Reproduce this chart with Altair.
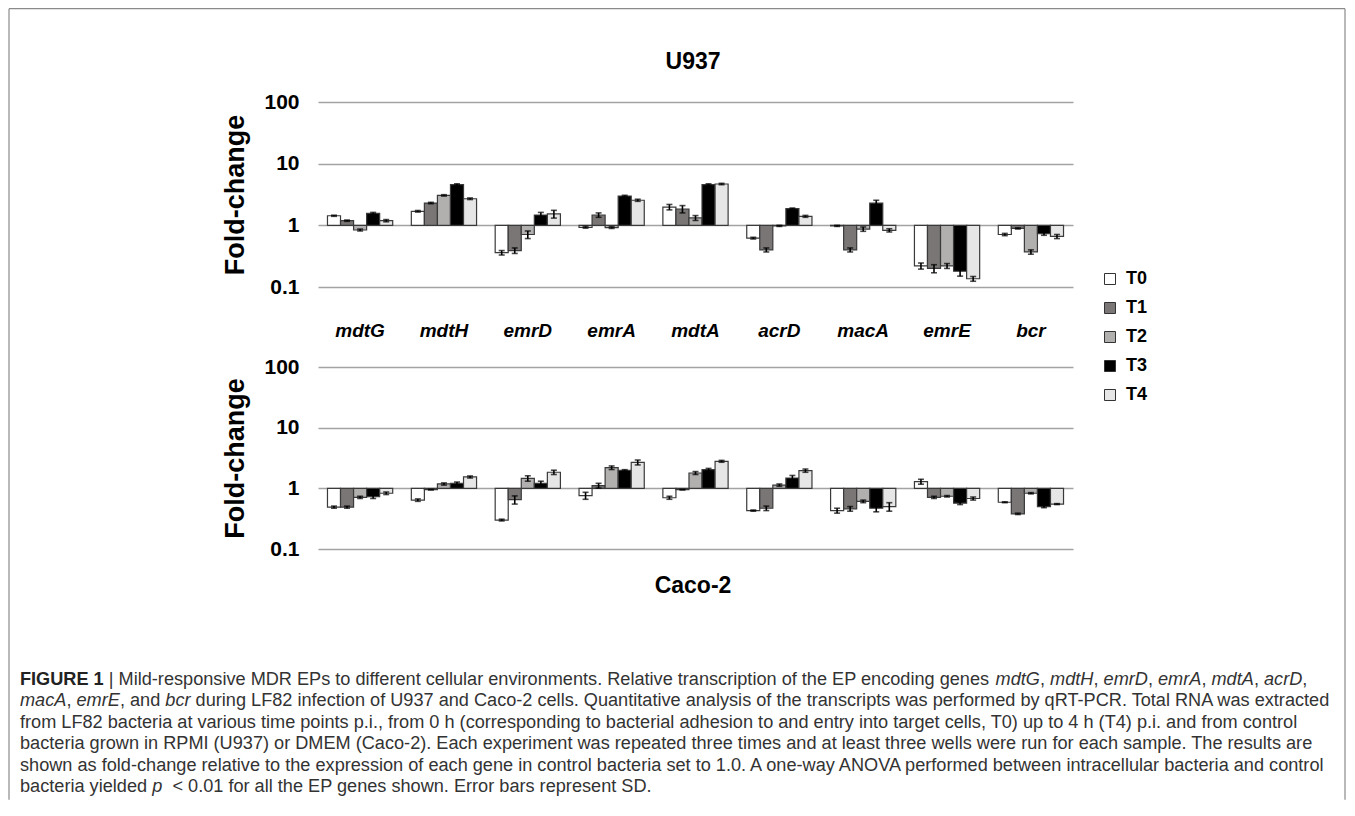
import altair as alt
import pandas as pd

# ---------------- data ----------------
GENES = ["mdtG", "mdtH", "emrD", "emrA", "mdtA", "acrD", "macA", "emrE", "bcr"]
TIMES = ["T0", "T1", "T2", "T3", "T4"]
COLORS = ["#ffffff", "#7a7676", "#b2afaf", "#000000", "#e6e6e6"]

# U937 fold-change (one list per time point, genes in GENES order)
U937_T0 = [1.43, 1.69, 0.36, 0.93, 1.98, 0.62, 0.98, 0.22, 0.71]
U937_T1 = [1.19, 2.30, 0.39, 1.47, 1.84, 0.40, 0.40, 0.20, 0.89]
U937_T2 = [0.84, 3.06, 0.71, 0.92, 1.32, 0.98, 0.87, 0.22, 0.37]
U937_T3 = [1.57, 4.57, 1.47, 2.99, 4.57, 1.86, 2.30, 0.18, 0.73]
U937_T4 = [1.19, 2.70, 1.53, 2.55, 4.68, 1.40, 0.83, 0.136, 0.66]
U937_SD_T0 = [0.03, 0.05, 0.03, 0.03, 0.20, 0.02, 0.02, 0.025, 0.03]
U937_SD_T1 = [0.03, 0.06, 0.04, 0.12, 0.25, 0.03, 0.03, 0.03, 0.02]
U937_SD_T2 = [0.03, 0.08, 0.10, 0.03, 0.12, 0.02, 0.07, 0.02, 0.03]
U937_SD_T3 = [0.05, 0.15, 0.15, 0.08, 0.15, 0.05, 0.25, 0.03, 0.04]
U937_SD_T4 = [0.05, 0.08, 0.22, 0.10, 0.12, 0.05, 0.05, 0.012, 0.05]

# Caco-2 fold-change
CACO_T0 = [0.49, 0.64, 0.30, 0.76, 0.70, 0.43, 0.43, 1.29, 0.59]
CACO_T1 = [0.49, 0.95, 0.65, 1.11, 0.95, 0.47, 0.46, 0.71, 0.38]
CACO_T2 = [0.71, 1.18, 1.46, 2.19, 1.79, 1.13, 0.61, 0.74, 0.83]
CACO_T3 = [0.73, 1.21, 1.21, 1.98, 2.03, 1.48, 0.47, 0.57, 0.50]
CACO_T4 = [0.83, 1.54, 1.84, 2.68, 2.79, 1.96, 0.50, 0.68, 0.55]
CACO_SD_T0 = [0.02, 0.03, 0.01, 0.10, 0.04, 0.01, 0.04, 0.12, 0.01]
CACO_SD_T1 = [0.02, 0.01, 0.10, 0.10, 0.01, 0.04, 0.04, 0.03, 0.01]
CACO_SD_T2 = [0.03, 0.05, 0.15, 0.15, 0.10, 0.05, 0.03, 0.02, 0.02]
CACO_SD_T3 = [0.05, 0.06, 0.10, 0.05, 0.10, 0.15, 0.06, 0.03, 0.02]
CACO_SD_T4 = [0.04, 0.06, 0.15, 0.25, 0.10, 0.12, 0.08, 0.04, 0.01]

Y_TICKS = [0.1, 1, 10, 100]

CAPTION_LINES = [
    [("FIGURE 1", "b"), (" |", "n"),
     (" Mild-responsive MDR EPs to different cellular environments. Relative transcription of the EP encoding genes ", "n"),
     ("mdtG", "i"), (", ", "n"), ("mdtH", "i"), (", ", "n"), ("emrD", "i"), (", ", "n"),
     ("emrA", "i"), (", ", "n"), ("mdtA", "i"), (", ", "n"), ("acrD", "i"), (",", "n")],
    [("macA", "i"), (", ", "n"), ("emrE", "i"), (", and ", "n"), ("bcr", "i"),
     (" during LF82 infection of U937 and Caco-2 cells. Quantitative analysis of the transcripts was performed by qRT-PCR. Total RNA was extracted", "n")],
    [("from LF82 bacteria at various time points p.i., from 0 h (corresponding to bacterial adhesion to and entry into target cells, T0) up to 4 h (T4) p.i. and from control", "n")],
    [("bacteria grown in RPMI (U937) or DMEM (Caco-2). Each experiment was repeated three times and at least three wells were run for each sample. The results are", "n")],
    [("shown as fold-change relative to the expression of each gene in control bacteria set to 1.0. A one-way ANOVA performed between intracellular bacteria and control", "n")],
    [("bacteria yielded ", "n"), ("p", "i"), ("  < 0.01 for all the EP genes shown. Error bars represent SD.", "n")],
]

# ---------------- layout (page pixels) ----------------
PLOT_LEFT = 318
TOP1 = 102.3
H1 = 185
GAP = 80
H2 = 182
W = 755
TOP2 = TOP1 + H1 + GAP
BOTTOM2 = TOP2 + H2
CAP_ORIGIN = BOTTOM2 + GAP
CAP_X0, CAP_Y0, CAP_DY, CAP_RIGHT = 20, 680, 21.5, 1335

FONT = "Liberation Sans"

# ---------------- helpers ----------------
def panel_df(series, sds):
    rows = []
    for t, vals, sd in zip(TIMES, series, sds):
        for g, v, s in zip(GENES, vals, sd):
            rows.append({"gene": g, "time": t, "value": v, "lo": v - s, "hi": v + s})
    return pd.DataFrame(rows)


df_u = panel_df([U937_T0, U937_T1, U937_T2, U937_T3, U937_T4],
                [U937_SD_T0, U937_SD_T1, U937_SD_T2, U937_SD_T3, U937_SD_T4])
df_c = panel_df([CACO_T0, CACO_T1, CACO_T2, CACO_T3, CACO_T4],
                [CACO_SD_T0, CACO_SD_T1, CACO_SD_T2, CACO_SD_T3, CACO_SD_T4])

yscale = alt.Scale(type="log", domain=[0.1, 100], nice=False)


def panel(df, height, show_genes, legend):
    xaxis = (alt.Axis(title=None, domain=False, ticks=False, tickSize=0, labelAngle=0,
                      labelFontSize=19, labelFontWeight="bold", labelFontStyle="italic",
                      labelColor="black", labelPadding=43.7, labelBaseline="middle")
             if show_genes else None)
    x = alt.X("gene:N", sort=GENES, axis=xaxis,
              scale=alt.Scale(paddingInner=0.222, paddingOuter=0.113))
    xo = alt.XOffset("time:N", sort=TIMES, scale=alt.Scale(paddingInner=0, paddingOuter=0))
    yaxis = alt.Axis(values=Y_TICKS, format="~g", title="Fold-change", grid=True,
                     gridColor="#a3a3a3", gridWidth=1.5, domain=False, ticks=False, tickSize=0,
                     labelFontSize=21, labelFontWeight="bold", labelColor="black",
                     labelPadding=19, titleFontSize=27, titleFontWeight="bold",
                     titleColor="black", titlePadding=14)
    base = alt.Chart(df)
    bars = base.mark_bar(stroke="#3a3a3a", strokeWidth=1.2).encode(
        x=x, xOffset=xo,
        y=alt.Y("value:Q", scale=yscale, axis=yaxis, title="Fold-change"),
        y2=alt.datum(1),
        fill=alt.Fill("time:N", sort=TIMES,
                      scale=alt.Scale(domain=TIMES, range=COLORS), legend=legend),
    )
    err = base.mark_rule(color="black", strokeWidth=1.6).encode(
        x=x, xOffset=xo,
        y=alt.Y("lo:Q", scale=yscale, title="Fold-change"), y2="hi:Q")
    cap_lo = base.mark_tick(color="black", thickness=1.6, size=6, orient="horizontal").encode(
        x=x, xOffset=xo, y=alt.Y("lo:Q", scale=yscale, title="Fold-change"))
    cap_hi = base.mark_tick(color="black", thickness=1.6, size=6, orient="horizontal").encode(
        x=x, xOffset=xo, y=alt.Y("hi:Q", scale=yscale, title="Fold-change"))
    return [bars, err, cap_lo, cap_hi]


legend = alt.Legend(title=None, orient="none", legendX=783, legendY=168, padding=0,
                    symbolType="square", symbolSize=121, symbolStrokeColor="#333333",
                    symbolStrokeWidth=1, labelFontSize=18, labelFontWeight="bold",
                    labelColor="black", labelOffset=7, rowPadding=11)

title_u = alt.Chart(pd.DataFrame({"t": ["U937"]})).mark_text(
    fontSize=23, fontWeight="bold", color="black", align="center", baseline="middle"
).encode(text="t:N", x=alt.value(693 - PLOT_LEFT), y=alt.value(62 - TOP1))

title_c = alt.Chart(pd.DataFrame({"t": ["Caco-2"]})).mark_text(
    fontSize=23, fontWeight="bold", color="black", align="center", baseline="middle"
).encode(text="t:N", x=alt.value(693 - PLOT_LEFT), y=alt.value(586 - TOP2))

top = alt.layer(*panel(df_u, H1, True, legend), title_u).properties(width=W, height=H1)
bottom = alt.layer(*panel(df_c, H2, False, None), title_c).properties(width=W, height=H2)

# ---------------- caption ----------------
REG = [278, 278, 355, 556, 556, 889, 667, 191, 333, 333, 389, 584, 278, 333, 278, 278,
       556, 556, 556, 556, 556, 556, 556, 556, 556, 556, 278, 278, 584, 584, 584, 556,
       1015, 667, 667, 722, 722, 667, 611, 778, 722, 278, 500, 667, 556, 833, 722, 778,
       667, 778, 722, 667, 611, 722, 667, 944, 667, 667, 611, 278, 278, 278, 469, 556,
       333, 556, 556, 500, 556, 556, 278, 556, 556, 222, 222, 500, 222, 833, 556, 556,
       556, 556, 333, 500, 278, 556, 500, 722, 500, 500, 500, 334, 260, 334, 584]
BOLD = {"F": 611, "I": 278, "G": 778, "U": 722, "R": 722, "E": 667, " ": 278, "1": 556}


def units(text, style):
    if style == "b":
        return sum(BOLD.get(ch, 611) for ch in text)
    return sum(REG[ord(ch) - 32] if 32 <= ord(ch) <= 126 else 556 for ch in text)


line2_units = sum(units(t, s) for t, s in CAPTION_LINES[1])
CAP_FS = (CAP_RIGHT - CAP_X0) / (line2_units / 1000.0)

cap_rows = []
for li, segs in enumerate(CAPTION_LINES):
    xpos = CAP_X0
    for t, s in segs:
        lead = len(t) - len(t.lstrip(" "))
        x_text = xpos + units(" " * lead, "n") * CAP_FS / 1000.0
        shown = t.strip(" ")
        if shown:
            cap_rows.append({"px": x_text - PLOT_LEFT,
                             "py": CAP_Y0 + li * CAP_DY - CAP_ORIGIN,
                             "t": shown, "s": s})
        xpos += units(t, s) * CAP_FS / 1000.0
cap_df = pd.DataFrame(cap_rows)

cap_base = alt.Chart(cap_df).encode(
    x=alt.X("px:Q", scale=None), y=alt.Y("py:Q", scale=None), text="t:N")
cap_n = cap_base.mark_text(align="left", baseline="middle", fontSize=CAP_FS,
                           color="#333333").transform_filter(alt.datum.s == "n")
cap_i = cap_base.mark_text(align="left", baseline="middle", fontSize=CAP_FS,
                           fontStyle="italic", color="#333333").transform_filter(alt.datum.s == "i")
cap_b = cap_base.mark_text(align="left", baseline="middle", fontSize=CAP_FS,
                           fontWeight="bold", color="#222222").transform_filter(alt.datum.s == "b")

FRAME_L, FRAME_R, FRAME_T, FRAME_B = 9, 1345, 9, 800
frame_df = pd.DataFrame({
    "x": [FRAME_L, FRAME_L, FRAME_R], "x2": [FRAME_L, FRAME_R, FRAME_R],
    "y": [FRAME_T, FRAME_T, FRAME_T], "y2": [FRAME_B, FRAME_T, FRAME_B],
})
frame_df["x"] = frame_df["x"] - PLOT_LEFT
frame_df["x2"] = frame_df["x2"] - PLOT_LEFT
frame_df["y"] = frame_df["y"] - CAP_ORIGIN
frame_df["y2"] = frame_df["y2"] - CAP_ORIGIN
frame = alt.Chart(frame_df).mark_rule(color="#8a8a8a", strokeWidth=1.2).encode(
    x=alt.X("x:Q", scale=None), x2="x2:Q", y=alt.Y("y:Q", scale=None), y2="y2:Q")

caption = alt.layer(frame, cap_n, cap_i, cap_b).properties(width=W, height=10)

chart = alt.vconcat(top, bottom, caption, spacing=GAP, bounds="flush").resolve_legend(
    fill="independent"
).properties(padding=0, background="white").configure(font=FONT).configure_view(stroke=None)

chart.save("out.html", embed_options={"renderer": "svg", "actions": False})
